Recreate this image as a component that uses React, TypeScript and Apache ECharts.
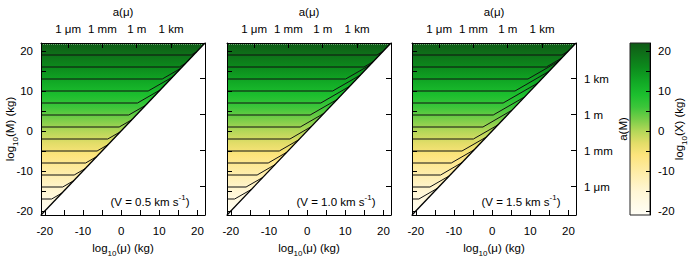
import { useEffect, useRef } from 'react';
import * as echarts from 'echarts';

// ---- data ----
const AXIS_MIN = -21;
const AXIS_MAX = 22;
const massTickValues = [-20, -15, -10, -5, 0, 5, 10, 15, 20];
const massLabelValues = [-20, -10, 0, 10, 20];
const sizeTickValues = [-13.9, -4.9, 4.1, 13.1];
const sizeTickLabels = ['1 μm', '1 mm', '1 m', '1 km'];
const velocityLabels = ['0.5', '1.0', '1.5'];
const contourLevels = [19, 16, 13, 10, 7, 4, 1, -2, -5, -8, -11, -14, -17];
// log10(mu) where each contour leaves the horizontal X = M regime
const contourBendV05 = [18.4, 15.3, 10.8, 7.1, 4.3, 2.0, -0.5, -3.5, -6.3, -9.3, -12.3, -15.3, -18.2];
const contourBendV10 = [18.3, 14.9, 10.1, 6.7, 3.6, 0.8, -1.8, -4.5, -7.3, -10.2, -13.1, -16.0, -19.0];
const contourBendV15 = [18.3, 14.2, 9.4, 6.0, 2.9, 0.3, -2.4, -4.9, -7.9, -10.7, -13.5, -16.3, -19.2];
// log10(mu) = log10(M) where each contour meets the diagonal
const contourEndV05 = [19.8, 16.9, 15.7, 13.5, 10.3, 6.4, 2.8, -0.2, -3.4, -6.4, -9.4, -12.4, -15.5];
const contourEndV10 = [19.9, 17.3, 16.5, 14.0, 11.2, 7.9, 4.4, 1.1, -2.2, -5.3, -8.4, -11.6, -14.6];
const contourEndV15 = [19.9, 18.2, 17.4, 14.9, 12.0, 8.5, 5.2, 1.5, -1.5, -4.7, -7.9, -11.2, -14.3];
const contourBends = [contourBendV05, contourBendV10, contourBendV15];
const contourEnds = [contourEndV05, contourEndV10, contourEndV15];
const domainCorners = [[AXIS_MIN, AXIS_MIN], [AXIS_MAX, AXIS_MAX], [AXIS_MIN, AXIS_MAX]];
const colorValues = [22, 20, 16, 12, 9, 6, 3, 0, -3, -6, -10, -15, -21];
const colorHex = ['#0e5a16', '#0f6a18', '#0c8a1c', '#12ab26', '#1cbf2e', '#3cc63a', '#76cd48', '#b3d758', '#e2dd68', '#fde47c', '#feeca4', '#fff6d4', '#fffef6'];

// ---- layout ----
const gridLefts = [41, 227, 412];
const gridTop = 43;
const gridWidth = 164;
const gridHeight = 172;
const FONT = 'Liberation Sans, Arial, Helvetica, sans-serif';
const FS = 11.5;

const richSub = {
  n: { fontSize: FS, fontFamily: FONT, color: '#000', lineHeight: 14 },
  s: { fontSize: 8, fontFamily: FONT, color: '#000', lineHeight: 19, verticalAlign: 'bottom' as const },
};
const richSup = {
  n: { fontSize: FS, fontFamily: FONT, color: '#000', lineHeight: 14 },
  p: { fontSize: 8, fontFamily: FONT, color: '#000', lineHeight: 18, verticalAlign: 'top' as const },
};

function makeGradient() {
  const span = AXIS_MAX - AXIS_MIN;
  return new echarts.graphic.LinearGradient(
    0, 0, 0, 1,
    colorValues.map((v, i) => ({ offset: (AXIS_MAX - v) / span, color: colorHex[i] }))
  );
}

export default function App() {
  const ref = useRef<HTMLDivElement>(null);
  useEffect(() => {
    if (!ref.current) return;
    const chart = echarts.init(ref.current, undefined, { renderer: 'svg' });
    const label = { color: '#000', fontSize: FS, fontFamily: FONT };
    const line = { show: true, onZero: false, lineStyle: { color: '#000', width: 1 } };
    const grid: any[] = [];
    const xAxis: any[] = [];
    const yAxis: any[] = [];
    const series: any[] = [];
    const graphic: any[] = [];
    const sizeFormatter = (v: number) => {
      const k = sizeTickValues.findIndex((t) => Math.abs(t - v) < 1e-6);
      return k >= 0 ? sizeTickLabels[k] : '';
    };

    gridLefts.forEach((left, i) => {
      grid.push({ left, top: gridTop, width: gridWidth, height: gridHeight, containLabel: false, outerBoundsMode: 'none' });
      // bottom x
      xAxis.push({
        type: 'value', gridIndex: i, position: 'bottom', min: AXIS_MIN, max: AXIS_MAX, z: 5,
        axisLine: line,
        axisTick: { show: true, inside: true, length: 5, customValues: massTickValues, lineStyle: { color: '#000' } },
        axisLabel: { ...label, customValues: massLabelValues, margin: 10 },
        splitLine: { show: false },
        name: '{n|log}{s|10}{n|(μ) (kg)}', nameLocation: 'middle', nameGap: 22,
        nameTextStyle: { rich: richSub },
      });
      // top x : a(mu)
      xAxis.push({
        type: 'value', gridIndex: i, position: 'top', min: AXIS_MIN, max: AXIS_MAX, z: 5,
        axisLine: line,
        axisTick: { show: true, inside: true, length: 5, customValues: sizeTickValues, lineStyle: { color: '#000' } },
        axisLabel: { ...label, customValues: sizeTickValues, margin: 8, formatter: sizeFormatter },
        splitLine: { show: false },
        name: 'a(μ)', nameLocation: 'middle', nameGap: 25, nameMoveOverlap: false,
        nameTextStyle: { ...label },
      });
      // left y
      yAxis.push({
        type: 'value', gridIndex: i, position: 'left', min: AXIS_MIN, max: AXIS_MAX, z: 5,
        axisLine: line,
        axisTick: { show: true, inside: true, length: 5, customValues: massTickValues, lineStyle: { color: '#000' } },
        axisLabel: { ...label, show: i === 0, customValues: massLabelValues, margin: 8 },
        splitLine: { show: false },
        name: i === 0 ? '{n|log}{s|10}{n|(M) (kg)}' : '', nameLocation: 'middle', nameGap: 22, nameMoveOverlap: false,
        nameTextStyle: { rich: richSub },
      });
      // right y : a(M)
      yAxis.push({
        type: 'value', gridIndex: i, position: 'right', min: AXIS_MIN, max: AXIS_MAX, z: 5,
        axisLine: line,
        axisTick: { show: true, inside: true, length: 5, customValues: sizeTickValues, lineStyle: { color: '#000' } },
        axisLabel: { ...label, show: i === 2, customValues: sizeTickValues, margin: 8, formatter: sizeFormatter },
        splitLine: { show: false },
        name: i === 2 ? 'a(M)' : '', nameLocation: 'middle', nameGap: 38,
        nameTextStyle: { ...label },
      });
      const xi = i * 2;
      const yi = i * 2;
      series.push({
        type: 'custom', xAxisIndex: xi, yAxisIndex: yi, z: 1, silent: true,
        data: [[0, 0]],
        renderItem: (_p: any, api: any) => ({
          type: 'polygon',
          shape: { points: domainCorners.map((c) => api.coord(c)) },
          style: { fill: makeGradient() },
        }),
      });
      series.push({
        type: 'line', xAxisIndex: xi, yAxisIndex: yi, z: 3, symbol: 'none', silent: true,
        data: [[AXIS_MIN, 21.75], [AXIS_MAX, 21.75]],
        lineStyle: { color: '#ffffff', width: 1, type: [1, 1], opacity: 0.8 },
      });
      contourLevels.forEach((lv, k) => {
        series.push({
          type: 'line', xAxisIndex: xi, yAxisIndex: yi, z: 3, symbol: 'none', silent: true,
          data: [[AXIS_MIN, lv], [contourBends[i][k], lv], [contourEnds[i][k], contourEnds[i][k]]],
          lineStyle: { color: '#111', width: 1 },
        });
      });
      series.push({
        type: 'line', xAxisIndex: xi, yAxisIndex: yi, z: 4, symbol: 'none', silent: true,
        data: [domainCorners[0], domainCorners[1]],
        lineStyle: { color: '#000', width: 1.3 },
      });
      graphic.push({
        type: 'text', x: left + 109, y: 202, z: 10,
        style: {
          text: `{n|(V = ${velocityLabels[i]} km s}{p|-1}{n|)}`,
          rich: richSup, align: 'center', verticalAlign: 'middle', fill: '#000',
        },
      });
    });

    // colour bar
    grid.push({ left: 630, top: gridTop, width: 20, height: gridHeight, containLabel: false, outerBoundsMode: 'none' });
    xAxis.push({ type: 'value', gridIndex: 3, min: 0, max: 1, show: false });
    yAxis.push({
      type: 'value', gridIndex: 3, position: 'right', min: AXIS_MIN, max: AXIS_MAX, z: 5,
      axisLine: line,
      axisTick: { show: true, inside: true, length: 4, customValues: massTickValues, lineStyle: { color: '#000' } },
      axisLabel: { ...label, customValues: massLabelValues, margin: 8 },
      splitLine: { show: false },
      name: '{n|log}{s|10}{n|(X) (kg)}', nameLocation: 'middle', nameGap: 19, nameMoveOverlap: false,
      nameTextStyle: { rich: richSub },
    });
    series.push({
      type: 'custom', xAxisIndex: 6, yAxisIndex: 6, z: 1, silent: true,
      data: [[0, 0]],
      renderItem: (_p: any, api: any) => {
        const a = api.coord([0, AXIS_MAX]);
        const b = api.coord([1, AXIS_MIN]);
        return {
          type: 'rect',
          shape: { x: a[0], y: a[1], width: b[0] - a[0], height: b[1] - a[1] },
          style: { fill: makeGradient(), stroke: '#222', lineWidth: 1 },
        };
      },
    });

    chart.setOption({ animation: false, grid, xAxis, yAxis, series, graphic });
    return () => chart.dispose();
  }, []);
  return <div ref={ref} style={{ position: 'fixed', left: 0, top: 0, width: 700, height: 259, background: '#fff' }} />;
}
